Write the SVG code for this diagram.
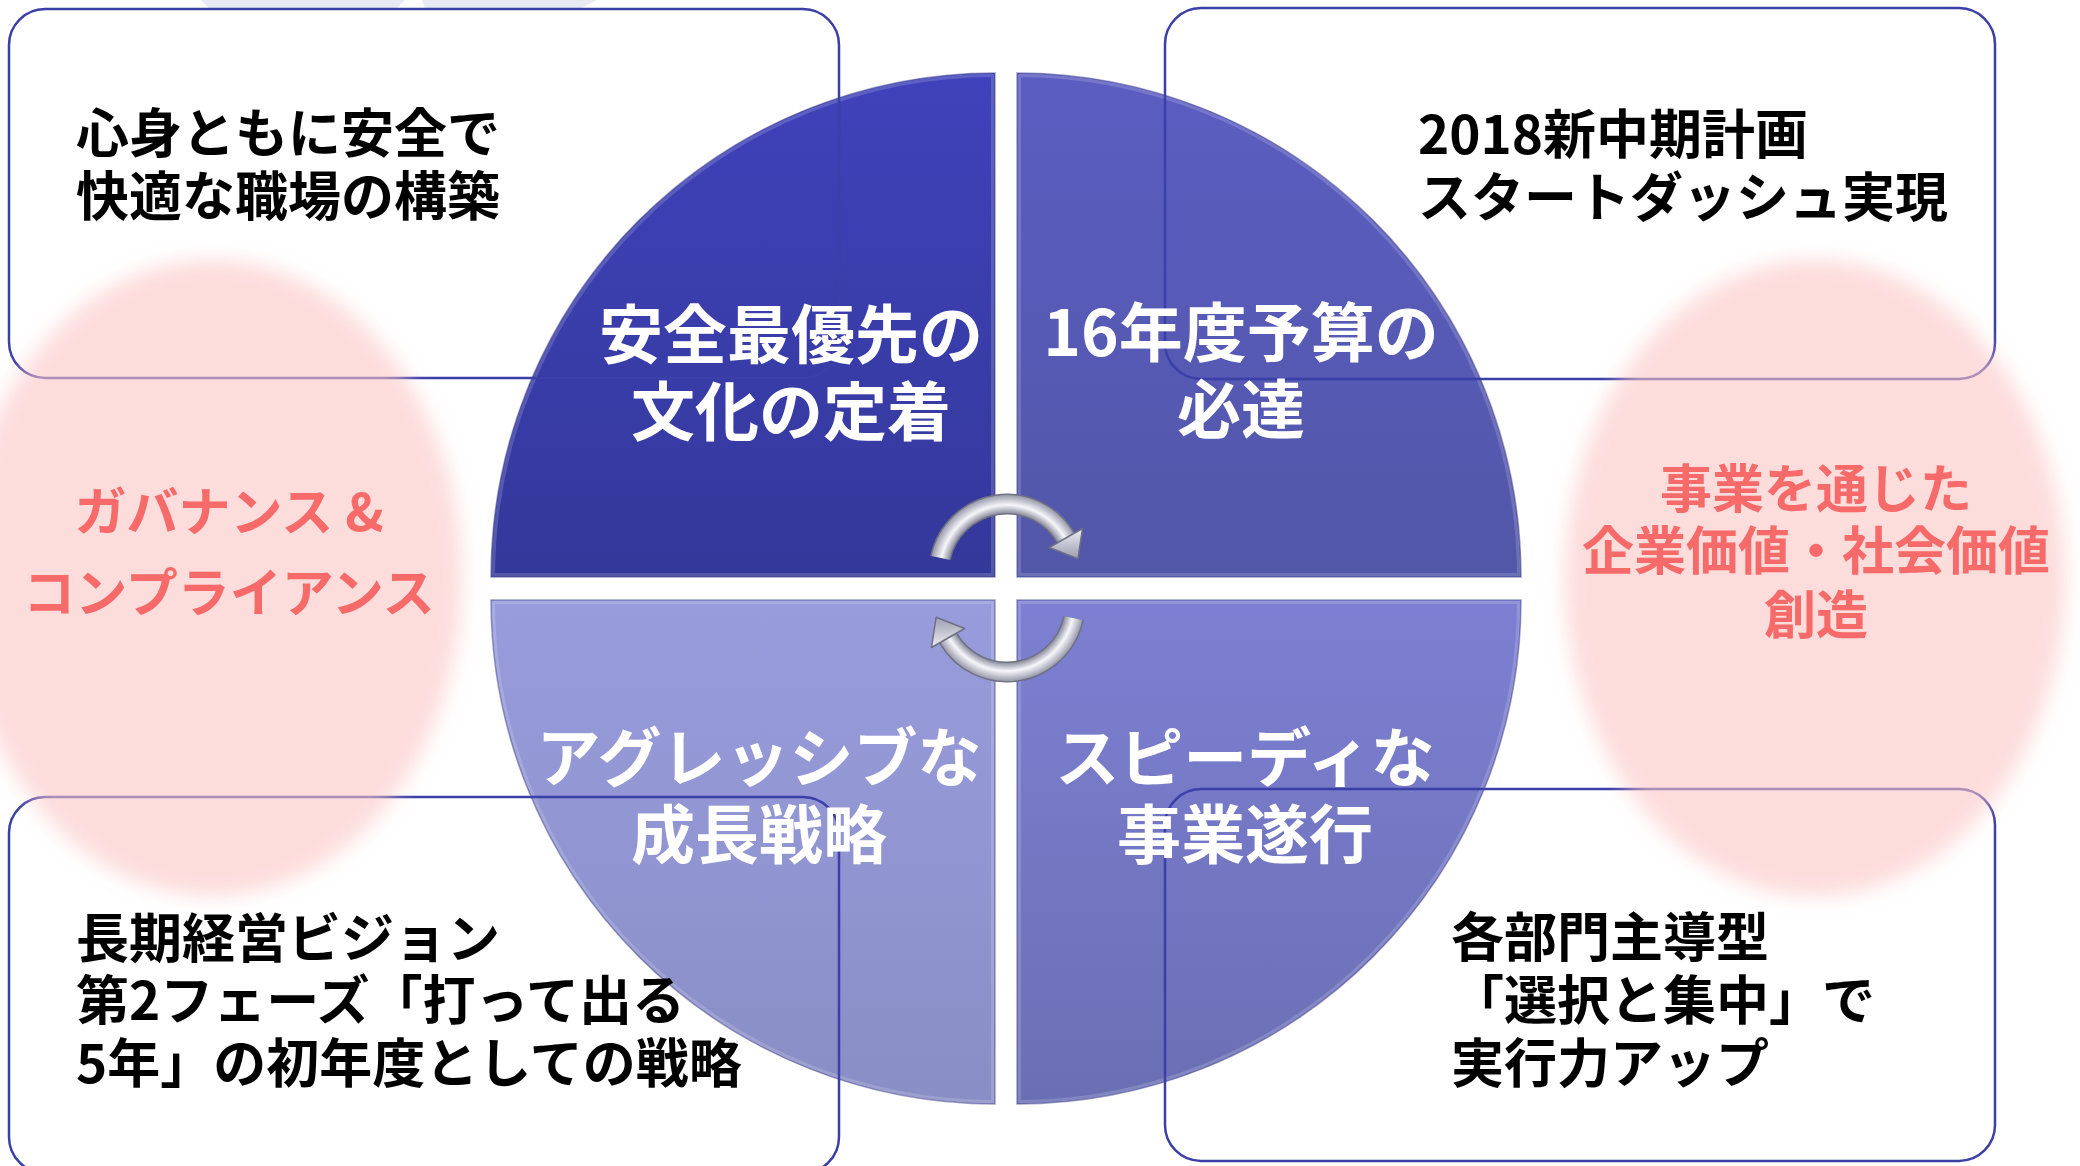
<svg xmlns="http://www.w3.org/2000/svg" width="2080" height="1166" viewBox="0 0 2080 1166">
<defs>
<style>
.jp{font-family:'Noto Sans CJK JP','Noto Sans CJK SC','Noto Sans',sans-serif;font-weight:700}
.qt{fill:#ffffff;font-size:64px;text-anchor:middle}
.bt{fill:#000000;font-size:53px}
.pt{fill:#f76a6a;font-size:52px;text-anchor:middle}
.box{fill:none;stroke:#3b3fa8;stroke-width:2.5}
.pink{fill:#fcc5c5;opacity:0.6}
.bevel{fill:none;stroke:#ffffff;stroke-opacity:0.16;stroke-width:8}
.edge{fill:none;stroke:#2a2d80;stroke-opacity:0.45;stroke-width:1.5}
.tube{fill:none;stroke-width:18}
.tubeout{fill:none;stroke:#6e7084;stroke-width:21}
.head{fill:url(#headg);stroke:#6e7084;stroke-width:1.5;stroke-linejoin:round}
</style>
<filter id="blur" x="-10%" y="-10%" width="120%" height="120%"><feGaussianBlur stdDeviation="10"/></filter>
<linearGradient id="gTL" gradientUnits="userSpaceOnUse" x1="0" y1="73" x2="0" y2="577"><stop offset="0" stop-color="#3f42ba"/><stop offset="1" stop-color="#34389a"/></linearGradient>
<linearGradient id="gTR" gradientUnits="userSpaceOnUse" x1="0" y1="73" x2="0" y2="577"><stop offset="0" stop-color="#5c5dc2"/><stop offset="1" stop-color="#5257a8"/></linearGradient>
<linearGradient id="gBL" gradientUnits="userSpaceOnUse" x1="0" y1="600" x2="0" y2="1104"><stop offset="0" stop-color="#989cdc"/><stop offset="1" stop-color="#8a8ec6"/></linearGradient>
<linearGradient id="gBR" gradientUnits="userSpaceOnUse" x1="0" y1="600" x2="0" y2="1104"><stop offset="0" stop-color="#7d80d2"/><stop offset="1" stop-color="#6a6fb4"/></linearGradient>
<radialGradient id="silver" gradientUnits="userSpaceOnUse" cx="1007" cy="572" r="77"><stop offset="0" stop-color="#8e90a0"/><stop offset="0.766" stop-color="#8e90a0"/><stop offset="0.87" stop-color="#f6f6fa"/><stop offset="1" stop-color="#9a9cac"/></radialGradient>
<linearGradient id="headg" x1="0" y1="0" x2="0" y2="1"><stop offset="0" stop-color="#eeeef4"/><stop offset="1" stop-color="#9c9eb0"/></linearGradient>
<clipPath id="cTL"><path d="M995 577 L491 577 A504 504 0 0 1 995 73 Z"/></clipPath>
<clipPath id="cTR"><path d="M1017 577 L1017 73 A504 504 0 0 1 1521 577 Z"/></clipPath>
<clipPath id="cBL"><path d="M995 600 L995 1104 A504 504 0 0 1 491 600 Z"/></clipPath>
<clipPath id="cBR"><path d="M1017 600 L1521 600 A504 504 0 0 1 1017 1104 Z"/></clipPath>
</defs>
<rect x="0" y="0" width="2080" height="1166" fill="#ffffff"/>
<polygon points="201,0 405,0 396,9 210,9" fill="#e8eaf3"/>
<polygon points="422,0 597,0 580,9 425,9" fill="#e8eaf3"/>

<g id="q-safety">
<path d="M995 577 L491 577 A504 504 0 0 1 995 73 Z" fill="url(#gTL)"/>
<path d="M995 577 L491 577 A504 504 0 0 1 995 73 Z" class="bevel" clip-path="url(#cTL)"/>
<path d="M995 577 L491 577 A504 504 0 0 1 995 73 Z" class="edge"/>
</g>
<g id="q-budget">
<path d="M1017 577 L1017 73 A504 504 0 0 1 1521 577 Z" fill="url(#gTR)"/>
<path d="M1017 577 L1017 73 A504 504 0 0 1 1521 577 Z" class="bevel" clip-path="url(#cTR)"/>
<path d="M1017 577 L1017 73 A504 504 0 0 1 1521 577 Z" class="edge"/>
</g>
<g id="q-growth">
<path d="M995 600 L995 1104 A504 504 0 0 1 491 600 Z" fill="url(#gBL)"/>
<path d="M995 600 L995 1104 A504 504 0 0 1 491 600 Z" class="bevel" clip-path="url(#cBL)"/>
<path d="M995 600 L995 1104 A504 504 0 0 1 491 600 Z" class="edge"/>
</g>
<g id="q-speed">
<path d="M1017 600 L1521 600 A504 504 0 0 1 1017 1104 Z" fill="url(#gBR)"/>
<path d="M1017 600 L1521 600 A504 504 0 0 1 1017 1104 Z" class="bevel" clip-path="url(#cBR)"/>
<path d="M1017 600 L1521 600 A504 504 0 0 1 1017 1104 Z" class="edge"/>
</g>

<g id="connectors">
<g id="arrow-top">
<path d="M940.5 557.9 A68 68 0 0 1 1065.9 538" class="tubeout"/>
<path d="M940.5 557.9 A68 68 0 0 1 1065.9 538" class="tube" stroke="url(#silver)"/>
<polygon points="1082.5,528.5 1049.3,547.5 1077.9,558.8" class="head"/>
</g>
<g id="arrow-bottom" transform="rotate(180 1007 588)">
<path d="M940.5 557.9 A68 68 0 0 1 1065.9 538" class="tubeout"/>
<path d="M940.5 557.9 A68 68 0 0 1 1065.9 538" class="tube" stroke="url(#silver)"/>
<polygon points="1082.5,528.5 1049.3,547.5 1077.9,558.8" class="head"/>
</g>
</g>

<g id="box-tl"><rect x="9" y="9" width="830" height="369" rx="36" class="box"/></g>
<g id="box-tr"><rect x="1165" y="8" width="830" height="371" rx="36" class="box"/></g>
<g id="box-bl"><rect x="9" y="797" width="830" height="376" rx="36" class="box"/></g>
<g id="box-br"><rect x="1165" y="789" width="830" height="372" rx="36" class="box"/></g>

<g id="pink-left"><ellipse cx="212" cy="578" rx="250" ry="318" class="pink" filter="url(#blur)"/></g>
<g id="pink-right"><ellipse cx="1815" cy="578" rx="250" ry="318" class="pink" filter="url(#blur)"/></g>

<g id="text-quadrants" class="jp qt">
<text x="791" y="358">安全最優先の<tspan x="791" y="435">文化の定着</tspan></text>
<text x="1241" y="356">16年度予算の<tspan x="1241" y="433">必達</tspan></text>
<text x="759" y="781">アグレッシブな<tspan x="759" y="858">成長戦略</tspan></text>
<text x="1245" y="781">スピーディな<tspan x="1245" y="858">事業遂行</tspan></text>
</g>

<g id="text-boxes" class="jp bt">
<text x="76" y="153">心身ともに安全で<tspan x="76" y="216">快適な職場の構築</tspan></text>
<text x="1418" y="154">2018新中期計画<tspan x="1418" y="217">スタートダッシュ実現</tspan></text>
<text x="76" y="958">長期経営ビジョン<tspan x="76" y="1020">第2フェーズ「打って出る</tspan><tspan x="76" y="1083">5年」の初年度としての戦略</tspan></text>
<text x="1451" y="957">各部門主導型<tspan x="1451" y="1020">「選択と集中」で</tspan><tspan x="1451" y="1083">実行力アップ</tspan></text>
</g>

<g id="text-pink" class="jp pt">
<text x="229" y="531">ガバナンス &amp;<tspan x="229" y="612">コンプライアンス</tspan></text>
<text x="1816" y="508">事業を通じた<tspan x="1816" y="570">企業価値・社会価値</tspan><tspan x="1816" y="634">創造</tspan></text>
</g>
</svg>
